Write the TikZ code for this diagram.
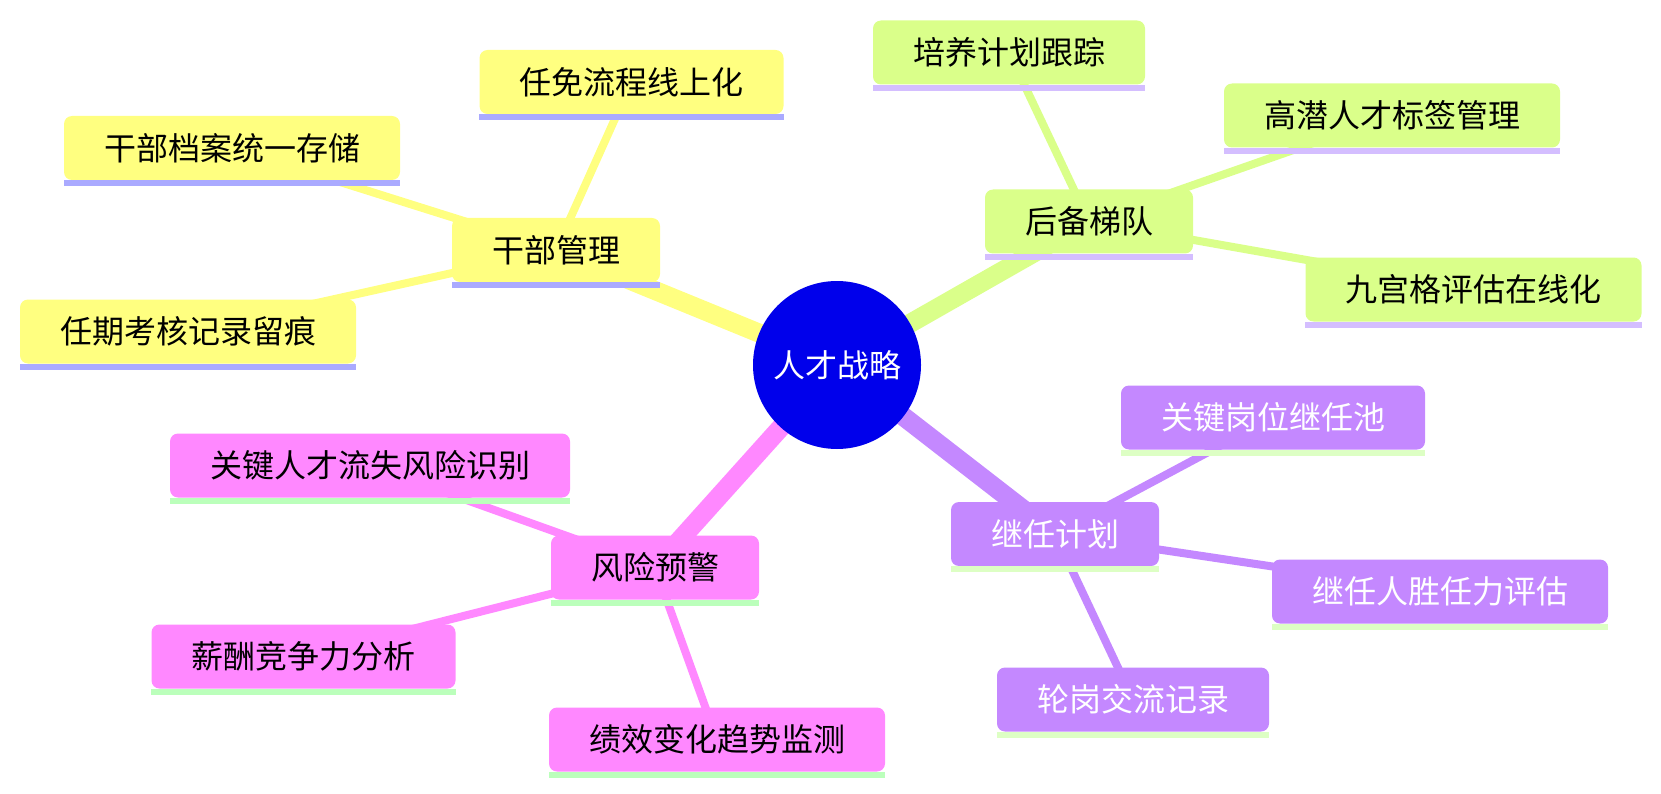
\documentclass[tikz,border=0pt]{standalone}
\usepackage{fontspec}
\setmainfont{Noto Sans CJK SC}
\usetikzlibrary{backgrounds}
\definecolor{cblue}{RGB}{0,0,235}
\definecolor{fY}{RGB}{255,255,128}
\definecolor{uY}{RGB}{170,170,255}
\definecolor{fG}{RGB}{218,255,138}
\definecolor{uG}{RGB}{212,190,255}
\definecolor{fP}{RGB}{196,136,255}
\definecolor{uP}{RGB}{221,255,196}
\definecolor{fK}{RGB}{255,136,255}
\definecolor{uK}{RGB}{187,255,187}
\tikzset{
  mbox/.style={rounded corners=8pt, inner xsep=0pt, inner ysep=0pt, minimum height=64pt,
    font=\fontsize{32}{38}\selectfont},
  bw/.style={minimum width=#1pt},
  yb/.style={mbox, fill=fY, text=black},
  gbx/.style={mbox, fill=fG, text=black},
  pb/.style={mbox, fill=fP, text=white},
  kb/.style={mbox, fill=fK, text=black},
  mainline/.style={line width=19pt},
  leafline/.style={line width=8pt},
}
\begin{document}
\begin{tikzpicture}[x=1pt,y=-1pt]
\useasboundingbox (0,0) rectangle (1661,794);
% centre
\node[circle, fill=cblue, minimum size=168pt, inner sep=0pt, text=white,
      font=\fontsize{32}{38}\selectfont] (c) at (837,365) {人才战略};
% yellow branch
\node[yb, bw=208] (gb) at (556,250) {干部管理};
\node[yb, bw=304] (rm) at (631.5,82) {任免流程线上化};
\node[yb, bw=336] (da) at (232,148) {干部档案统一存储};
\node[yb, bw=336] (rq) at (188,331.5) {任期考核记录留痕};
% green branch
\node[gbx, bw=208] (hb) at (1089,221.5) {后备梯队};
\node[gbx, bw=272] (py) at (1009,52.5) {培养计划跟踪};
\node[gbx, bw=336] (gq) at (1392,115.5) {高潜人才标签管理};
\node[gbx, bw=336] (jg) at (1473.5,289.5) {九宫格评估在线化};
% purple branch
\node[pb, bw=208] (jr) at (1055,534) {继任计划};
\node[pb, bw=304] (gj) at (1273,417.5) {关键岗位继任池};
\node[pb, bw=336] (sr) at (1440,591.5) {继任人胜任力评估};
\node[pb, bw=272] (lg) at (1133,699.5) {轮岗交流记录};
% pink branch
\node[kb, bw=208] (fx) at (655,567.5) {风险预警};
\node[kb, bw=400] (ls) at (370,465.5) {关键人才流失风险识别};
\node[kb, bw=304] (xc) at (303.5,656.5) {薪酬竞争力分析};
\node[kb, bw=336] (jx) at (717,739.5) {绩效变化趋势监测};
% underlines
\foreach \n in {gb,rm,da,rq}
  \fill[uY] (\n.south west) rectangle ([yshift=-6pt]\n.south east);
\foreach \n in {hb,py,gq,jg}
  \fill[uG] (\n.south west) rectangle ([yshift=-6pt]\n.south east);
\foreach \n in {jr,gj,sr,lg}
  \fill[uP] (\n.south west) rectangle ([yshift=-6pt]\n.south east);
\foreach \n in {fx,ls,xc,jx}
  \fill[uK] (\n.south west) rectangle ([yshift=-6pt]\n.south east);
% connectors
\begin{scope}[on background layer]
  \draw[fY, mainline] (c.center) -- (gb.center);
  \draw[fG, mainline] (c.center) -- (hb.center);
  \draw[fP, mainline] (c.center) -- (jr.center);
  \draw[fK, mainline] (c.center) -- (fx.center);
  \draw[fY, leafline] (gb.center) -- (rm.center);
  \draw[fY, leafline] (gb.center) -- (da.center);
  \draw[fY, leafline] (gb.center) -- (rq.center);
  \draw[fG, leafline] (hb.center) -- (py.center);
  \draw[fG, leafline] (hb.center) -- (gq.center);
  \draw[fG, leafline] (hb.center) -- (jg.center);
  \draw[fP, leafline] (jr.center) -- (gj.center);
  \draw[fP, leafline] (jr.center) -- (sr.center);
  \draw[fP, leafline] (jr.center) -- (lg.center);
  \draw[fK, leafline] (fx.center) -- (ls.center);
  \draw[fK, leafline] (fx.center) -- (xc.center);
  \draw[fK, leafline] (fx.center) -- (jx.center);
\end{scope}
\end{tikzpicture}
\end{document}
